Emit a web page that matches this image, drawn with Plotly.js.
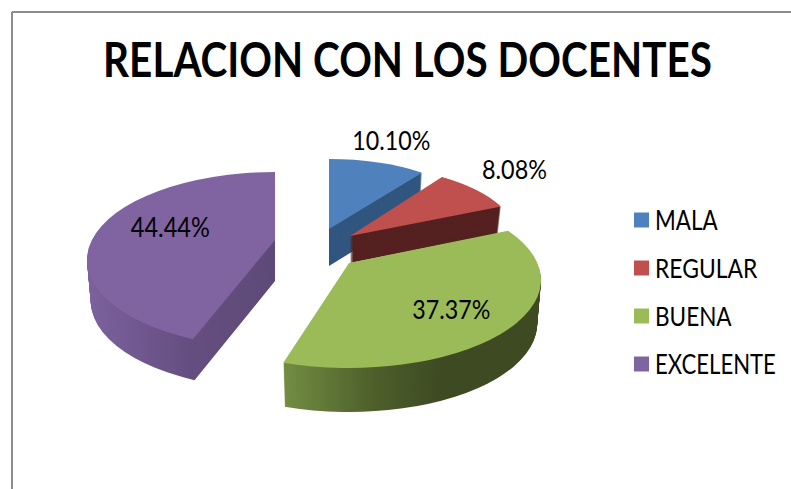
<!DOCTYPE html>
<html><head><meta charset="utf-8">
<script src="https://cdn.plot.ly/plotly-3.0.1.min.js"></script>
<style>html,body{margin:0;padding:0;background:#fff}#c{width:791px;height:489px}</style>
</head><body><div id="c"></div>
<script>
const categories = ['MALA','REGULAR','BUENA','EXCELENTE'];
const percentages = [10.10, 8.08, 37.37, 44.44];
const colors = ['#4f81bd','#c0504d','#9bbb59','#8064a2'];
const sideColors = ['#31567f','#552120','url(#sideGreen)','url(#sidePurple)'];
const titleText = 'RELACION CON LOS DOCENTES';

// 3D view of each exploded wedge, in page pixels
const viewCx = [329,350,349,275];
const viewCy = [229,236,280,260];
const viewRx = [157,166,192,188];
const viewRy = [70,71,88,88];
const apexLift = [0,0,17,20];
const startWarpDeg = [0,-2.7,-9.5,5.9];
const depth = [37,27,44,41];
const depthShrink = 0.02;
const labelX = [391,514.5,451,170.5];
const labelY = [139,168,308,226];
const labelW = [78,65,78,79];
const legendY = [220,268,316,364];
const legendW = [63,103,77,121];
const titleW = 609;

const W=791,H=489;
const face='Lato,"Open Sans",sans-serif';
const gd=document.getElementById('c');
const trace={type:'pie',labels:categories,values:percentages,sort:false,direction:'clockwise',rotation:0,
  marker:{colors:colors,line:{width:0}},textinfo:'none',hoverinfo:'label+percent',domain:{x:[0.2,0.6],y:[0.2,0.8]}};
const layout={width:W,height:H,margin:{l:0,r:0,t:0,b:0,pad:0},paper_bgcolor:'#fff',
  title:{text:titleText,font:{family:face,size:48,color:'#000',weight:700},x:407.5/W,xanchor:'center',y:1-60/H,yanchor:'middle'},
  showlegend:true,
  legend:{x:0,y:1,xanchor:'left',yanchor:'top',font:{family:face,size:26,color:'#000'},bgcolor:'rgba(0,0,0,0)',traceorder:'normal'},
  shapes:[
    {type:'line',xref:'paper',yref:'paper',x0:12/W,x1:1,y0:1-12/H,y1:1-12/H,line:{color:'#8c8c8c',width:2}},
    {type:'line',xref:'paper',yref:'paper',x0:12/W,x1:12/W,y0:0,y1:1-12/H,line:{color:'#8c8c8c',width:2}}
  ],
  annotations:percentages.map((v,i)=>({xref:'paper',yref:'paper',x:labelX[i]/W,y:1-labelY[i]/H,xanchor:'center',yanchor:'middle',
    text:v.toFixed(2)+'%',showarrow:false,font:{family:face,size:27,color:'#000'}}))
};
function fit(el,w,anchorLeft){
  if(!el) return;
  const b=el.getBBox();
  if(!b.width) return;
  const o=anchorLeft?b.x:b.x+b.width/2, s=w/b.width, prev=el.getAttribute('transform')||'';
  el.setAttribute('transform',`translate(${o},0) scale(${s},1) translate(${-o},0) ${prev}`);
}
Plotly.newPlot(gd,[trace],layout,{displayModeBar:false,staticPlot:true}).then(()=>{
  const cd=gd.calcdata[0], cx=cd[0].cx, cy=cd[0].cy, r=cd[0].r;
  const svg=gd.querySelector('.main-svg');
  let defs=svg.querySelector('defs');
  const NS='http://www.w3.org/2000/svg';
  function grad(id,stops){
    const g=document.createElementNS(NS,'linearGradient');g.setAttribute('id',id);
    stops.forEach(s=>{const e=document.createElementNS(NS,'stop');e.setAttribute('offset',s[0]);e.setAttribute('stop-color',s[1]);g.appendChild(e);});
    defs.appendChild(g);
  }
  grad('sideGreen',[[0,'#728d42'],[0.35,'#4e5f2b'],[0.62,'#3d4a22'],[1,'#3d4a22']]);
  grad('sidePurple',[[0,'#7c619d'],[0.55,'#644e80'],[1,'#5e4a78']]);
  const paths=gd.querySelectorAll('.pielayer .slice path.surface');
  paths.forEach((p,i)=>{
    const sx=viewRx[i]/r, sy=viewRy[i]/r;
    const lift=apexLift[i]/sy;
    const pt=cd[i], a=startWarpDeg[i]*Math.PI/180;
    const s0=[pt.px0[0]*Math.cos(a)-pt.px0[1]*Math.sin(a), pt.px0[0]*Math.sin(a)+pt.px0[1]*Math.cos(a)];
    p.setAttribute('d','M'+cx+','+(cy-lift)+'l'+s0[0]+','+(s0[1]+lift)+'a'+r+','+r+' 0 '+pt.largeArc+' 1 '+(pt.px1[0]-s0[0])+','+(pt.px1[1]-s0[1])+'Z');
    const base=(k)=>{
      const s=sx*(1-depthShrink*k/Math.max(depth[i],1));
      return `matrix(${s},0,0,${sy},${viewCx[i]-s*cx},${viewCy[i]+k-sy*cy})`;
    };
    for(let k=depth[i];k>=1;k--){
      const c=p.cloneNode(false);
      c.setAttribute('transform',base(k));
      c.style.fill=sideColors[i];
      c.style.stroke='none';
      p.parentNode.insertBefore(c,p);
    }
    p.setAttribute('transform',base(0));
  });
  // legend placement
  const leg=gd.querySelector('.legend');
  leg.setAttribute('transform','translate(0,0)');
  const sb=leg.querySelector('.scrollbox');
  if(sb){sb.removeAttribute('clip-path');sb.setAttribute('transform','translate(0,0)');}
  leg.querySelectorAll('.traces').forEach((t,i)=>{
    t.setAttribute('transform',`translate(621.5,${legendY[i]})`);
    const s=t.querySelector('.legendpoints path');
    if(s) s.setAttribute('d','M7.5,7.5H-7.5V-7.5H7.5Z');
    const tx=t.querySelector('text.legendtext');
    if(tx){tx.setAttribute('x',33.5);fit(tx,legendW[i],true);}
  });
  fit(gd.querySelector('.gtitle'),titleW);
  gd.querySelectorAll('.annotation-text').forEach((t,i)=>fit(t,labelW[i]));
});
</script></body></html>
